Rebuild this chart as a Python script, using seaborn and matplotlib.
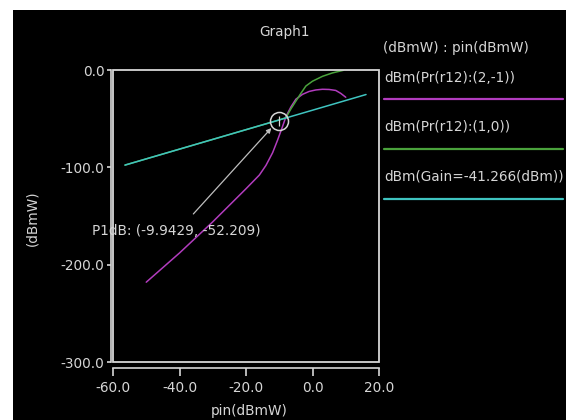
import numpy as np
import pandas as pd
import matplotlib
matplotlib.use("Agg")
import matplotlib.pyplot as plt
import seaborn as sns
from matplotlib.patches import Rectangle
from matplotlib.lines import Line2D

# ---------------- data ----------------
title = "Graph1"
x_label = "pin(dBmW)"
y_label = "(dBmW)"
legend_header = "(dBmW) : pin(dBmW)"
series_names = ["dBm(Pr(r12):(2,-1))", "dBm(Pr(r12):(1,0))", "dBm(Gain=-41.266(dBm))"]
series_colors = ["#b23cbe", "#4aa23c", "#3fc4c0"]

im3_x = [-50, -45, -40, -35, -30, -25, -20, -16, -14, -12, -10.5, -9, -8, -6.5, -5, -3, -1, 1, 3, 5, 7, 8.5, 10]
im3_y = [-218, -203, -188, -172, -156, -139, -122, -108, -98, -85, -72, -58, -48, -38, -30, -25, -22, -20.5, -19.8, -20, -21, -24, -28]

fund_x = [-56.4, -10, -8, -6.5, -5, -3.5, -2, 0, 3, 6, 9.3]
fund_y = [-97.7, -51.3, -49, -40, -32, -24, -16.5, -11.5, -6.5, -3, -0.3]

gain_x = [-56.4, 16.1]
gain_y = [-97.7, -25.2]

p1db_x = -9.9429
p1db_y = -52.209
p1db_text = "P1dB: (-9.9429, -52.209)"

x_ticks = [-60, -40, -20, 0, 20]
y_ticks = [0, -100, -200, -300]
x_tick_labels = ["-60.0", "-40.0", "-20.0", "0.0", "20.0"]
y_tick_labels = ["0.0", "-100.0", "-200.0", "-300.0"]

# ---------------- figure ----------------
sns.set_style("dark")
plt.rcParams["font.family"] = ["DejaVu Sans"]
fg = "#d6d6d6"
fs = 9.8

W, H = 566, 420
fig = plt.figure(figsize=(W / 100, H / 100), dpi=100, facecolor="white")
fig.patches.append(Rectangle((13 / W, 0), 1 - 13 / W, 1 - 10 / H, transform=fig.transFigure,
                             facecolor="black", edgecolor="none", zorder=-10))

ax = fig.add_axes([113 / W, 1 - 362 / H, (379 - 113) / W, (362 - 70) / H])
ax.set_facecolor("black")

frames = []
for name, xs, ys in zip(series_names, [im3_x, fund_x, gain_x], [im3_y, fund_y, gain_y]):
    frames.append(pd.DataFrame({"pin": xs, "val": ys, "series": name}))
df = pd.concat(frames, ignore_index=True)

sns.lineplot(data=df, x="pin", y="val", hue="series", hue_order=series_names,
             palette=dict(zip(series_names, series_colors)), legend=False, sort=False,
             estimator=None, linewidth=1.1, ax=ax)

ax.set_xlim(-60, 20)
ax.set_ylim(-300, 0)
ax.grid(False)
ax.set_xlabel("")
ax.set_ylabel("")

for s in ["top", "right"]:
    ax.spines[s].set_visible(False)
ax.spines["left"].set_position(("outward", 1.8))
ax.spines["bottom"].set_position(("outward", 4.3))
for s in ["left", "bottom"]:
    ax.spines[s].set_visible(True)
    ax.spines[s].set_color(fg)
    ax.spines[s].set_linewidth(1.2)
ax.add_patch(Rectangle((0, 0), 1, 1, transform=ax.transAxes, fill=False,
                       edgecolor=fg, linewidth=1.3, zorder=5, clip_on=False))

ax.set_xticks(x_ticks)
ax.set_xticklabels(x_tick_labels)
ax.set_yticks(y_ticks)
ax.set_yticklabels(y_tick_labels)
ax.tick_params(axis="x", direction="out", length=5.8, width=1.2, color=fg,
               labelcolor=fg, labelsize=fs, pad=3.5, bottom=True)
ax.tick_params(axis="y", direction="out", length=3, width=1.2, color=fg,
               labelcolor=fg, labelsize=fs, pad=1.5, left=True)

# P1dB marker and annotation
ax.plot([p1db_x], [p1db_y], marker="o", markersize=13, markerfacecolor="none",
        markeredgecolor=fg, markeredgewidth=1.1, zorder=6)
ax.plot([p1db_x], [p1db_y], marker="|", markersize=7, color=fg, markeredgewidth=0.9, zorder=6)
ax.annotate("", xy=(-11.8, -57.5), xytext=(-36.4, -150),
            arrowprops=dict(arrowstyle="-|>", color="#bfbfbf", lw=0.9, mutation_scale=7),
            annotation_clip=False, zorder=6)
ax.text(-66.3, -165.5, p1db_text, color=fg, fontsize=fs, ha="left", va="center",
        clip_on=False, zorder=7)

# texts
fig.text(285 / W, 1 - 32 / H, title, color=fg, fontsize=fs, ha="center", va="center")
fig.text(249 / W, 1 - 411 / H, x_label, color=fg, fontsize=fs, ha="center", va="center")
fig.text(32 / W, 1 - 218 / H, y_label, color=fg, fontsize=fs, ha="center", va="center", rotation=90)

# legend
fig.text(383 / W, 1 - 48 / H, legend_header, color=fg, fontsize=fs, ha="left", va="center")
for i, (name, c) in enumerate(zip(series_names, series_colors)):
    fig.text(384 / W, 1 - (78 + 49 * i) / H, name, color=fg, fontsize=fs, ha="left", va="center")
    fig.add_artist(Line2D([384 / W, 563 / W], [1 - (99 + 50 * i) / H] * 2,
                          transform=fig.transFigure, color=c, linewidth=1.6))

fig.savefig("out.png", dpi=100, facecolor="white")
